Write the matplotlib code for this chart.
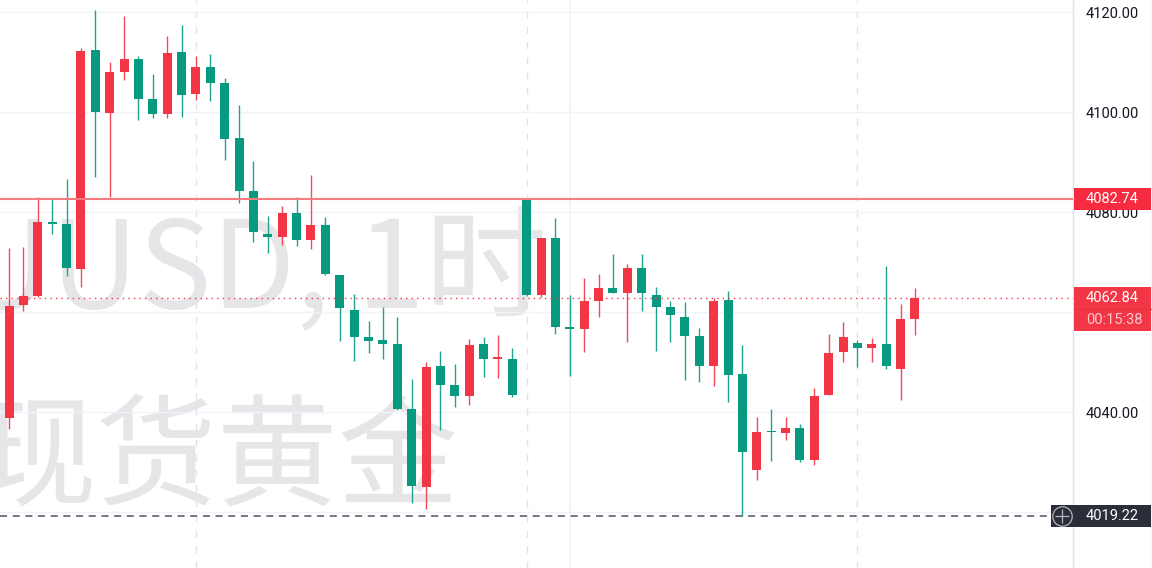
import matplotlib
matplotlib.use("Agg")
import matplotlib.pyplot as plt
from matplotlib.patches import Rectangle

# Open, high, low, close
opens = [4038.8,4061.46,4063.34,4078.0,4077.6,4068.74,4112.4,4099.86,4108.0,4110.66,4102.6,4099.66,4112.0,4103.74,4109.06,4105.86,
         4094.94,4084.2,4075.74,4075.06,4079.86,4074.4,4077.4,4067.46,4060.54,4055.0,4054.4,4053.6,4040.6,4025.06,4049.34,4045.4,
         4043.26,4053.66,4050.66,4050.74,4082.6,4063.54,4074.8,4057.0,4056.66,4062.26,4064.94,4063.8,4068.86,4063.46,4061.0,4059.14,
         4055.2,4049.2,4062.4,4047.6,4028.4,4036.14,4035.94,4036.94,4030.46,4043.4,4052.0,4053.86,4052.8,4053.6,4048.74,4058.74]
highs = [4072.8,4073.0,4083.0,4082.66,4086.6,4112.8,4120.4,4110.0,4119.26,4111.2,4107.74,4115.34,4117.4,4111.2,4111.6,4106.94,
         4101.54,4090.34,4079.26,4081.26,4083.14,4087.4,4079.06,4067.54,4063.74,4058.2,4061.0,4059.14,4046.74,4050.14,4052.34,4049.6,
         4054.6,4055.0,4055.4,4052.86,4082.74,4074.94,4078.94,4063.4,4066.86,4067.74,4071.74,4069.74,4071.74,4065.0,4062.34,4062.0,
         4056.94,4062.94,4064.34,4053.46,4039.14,4040.74,4039.14,4037.6,4044.94,4055.6,4058.06,4054.4,4054.86,4069.2,4061.74,4064.94]
lows = [4036.6,4060.26,4063.06,4075.6,4067.2,4065.06,4087.06,4083.06,4106.54,4098.46,4098.86,4098.86,4099.0,4102.54,4102.26,4090.4,
        4081.94,4074.14,4071.8,4073.4,4073.26,4072.74,4067.4,4054.26,4050.2,4051.86,4050.6,4040.46,4021.86,4020.74,4036.54,4041.06,
        4041.46,4047.0,4046.8,4043.14,4063.26,4063.06,4055.66,4047.26,4052.0,4059.14,4063.8,4054.06,4060.34,4052.34,4054.14,4046.46,
        4046.06,4045.26,4042.14,4019.22,4026.54,4030.26,4034.54,4030.14,4029.54,4043.4,4050.14,4049.0,4050.06,4048.6,4042.4,4055.54]
closes = [4061.2,4063.2,4078.06,4077.74,4068.86,4112.34,4100.06,4108.0,4110.66,4102.6,4099.74,4111.94,4103.46,4109.0,4105.8,4094.66,
          4084.26,4076.06,4075.06,4079.86,4074.4,4077.4,4067.6,4060.94,4055.06,4054.34,4053.6,4040.6,4025.26,4049.06,4045.4,4043.2,
          4053.54,4050.66,4050.86,4043.46,4063.46,4074.86,4057.06,4056.6,4062.34,4064.86,4063.8,4068.8,4063.8,4061.06,4059.4,4055.2,
          4049.26,4062.34,4047.54,4032.14,4036.14,4036.0,4036.8,4030.46,4043.26,4051.94,4055.06,4052.86,4053.6,4049.2,4058.66,4062.84]

y_ticks = [4120, 4100, 4080, 4060, 4040, 4020]
session_breaks = [13, 36, 59]
grid_col = [39]
pivot_high = 4082.74
last_price = 4062.84
pivot_low = 4019.22
countdown = "00:15:38"
watermark_1 = "XAUUSD, 1时"
watermark_2 = "现货黄金"

UP, DOWN = "#f23645", "#089981"
FIG_W, FIG_H, AX_W = 1152, 568, 1073
TOP = 4122.46

fig = plt.figure(figsize=(FIG_W / 100, FIG_H / 100), dpi=100, facecolor="white")
ax = fig.add_axes([0, 0, AX_W / FIG_W, 1])
PX = 14.38                       # pixels per bar
ax.set_xlim(-9 / PX, (AX_W - 9) / PX)
ax.set_ylim(TOP - FIG_H / 5, TOP)
for side in ("top", "left", "bottom"):
    ax.spines[side].set_visible(False)
ax.spines["right"].set_color("#e0e3eb")
ax.spines["right"].set_linewidth(1.0)
ax.set_xticks([])
ax.yaxis.tick_right()
ax.set_yticks(y_ticks, [f"{v:.2f}" for v in y_ticks], fontfamily="Roboto", fontsize=10.5, color="#131722")
ax.tick_params(axis="y", length=0, pad=9.3)
ax.set_axisbelow(True)
ax.grid(axis="y", color="#f0f3fa", lw=1.0)

for i in grid_col:
    ax.axvline(i, color="#f0f3fa", lw=1.2, zorder=0.5)
for i in session_breaks:
    ax.axvline(i, color="#e0e3eb", lw=1.0, ls=(0, (5, 6)), zorder=0.5)

wm = dict(color="#e6e6e9", zorder=0.2, clip_on=True, va="baseline")
ax.text(547 / PX - 9 / PX, TOP - 308 / 5, watermark_1, ha="right", fontsize=88,
        family=["Noto Sans CJK SC"], **wm)
ax.text(459 / PX - 9 / PX, TOP - 496 / 5, watermark_2, ha="right", fontsize=87,
        family=["Noto Sans CJK SC"], **wm)

xs = list(range(len(opens)))
colors = [UP if c >= o else DOWN for o, c in zip(opens, closes)]
ax.vlines(xs, lows, highs, colors=colors, lw=1.0, zorder=3, alpha=0.9)
bottoms = [min(o, c) for o, c in zip(opens, closes)]
heights = [max(abs(c - o), 0.3) for o, c in zip(opens, closes)]
ax.bar(xs, heights, bottom=bottoms, width=9 / PX, color=colors, linewidth=0, zorder=3.2)

ax.axhline(pivot_high, color="#f77c80", lw=1.5, zorder=3.5)
ax.axhline(last_price, color=UP, lw=1.0, ls=(0, (1, 3)), zorder=3.5)
ax.axhline(pivot_low, color="#50535e", lw=1.1, ls=(0, (4.6, 3.7)), zorder=3.5)

tr = ax.get_yaxis_transform()
ax_px = 1 / AX_W
def tag(y_top, y_bot, color, x0=AX_W + 1, x1=FIG_W - 1):
    ax.add_patch(Rectangle((x0 * ax_px, y_bot), (x1 - x0) * ax_px, y_top - y_bot, transform=tr,
                           facecolor=color, edgecolor="none", clip_on=False, zorder=6))
def label(y, s, color="white"):
    ax.text((AX_W + 13) * ax_px, y, s, transform=tr, color=color, fontsize=10.5, family="Roboto",
            va="center", ha="left", clip_on=False, zorder=7)

tag(pivot_high + 2.2, pivot_high - 2.2, "#f72b40")
label(pivot_high, f"{pivot_high:.2f}")
tag(last_price + 2.2, last_price - 6.6, "#f23645")
ax.plot([(AX_W + 1) * ax_px, (FIG_W - 1) * ax_px], [last_price - 2.2] * 2, transform=tr,
        color="#e8303f", lw=0.8, clip_on=False, zorder=6.5)
label(last_price, f"{last_price:.2f}")
label(last_price - 4.4, countdown, "#fcc6cb")
tag(pivot_low + 2.2, pivot_low - 2.2, "#2a2e39", x0=1051)
label(pivot_low, f"{pivot_low:.2f}")

# plus button on the low-price tag
ax.plot([1062 * ax_px], [pivot_low], transform=tr, marker="o", ms=14, mfc="none", mec="#b2b5be", mew=0.9,
        clip_on=False, zorder=7)
ax.plot([1062 * ax_px], [pivot_low], transform=tr, marker="+", ms=10, mec="#b2b5be", mew=0.9,
        clip_on=False, zorder=7)

# outer right border of the price scale
fig.add_artist(plt.Line2D([1151.5 / FIG_W] * 2, [0, 1], color="#e0e3eb", lw=1.0))

fig.savefig("out.png", dpi=100)
